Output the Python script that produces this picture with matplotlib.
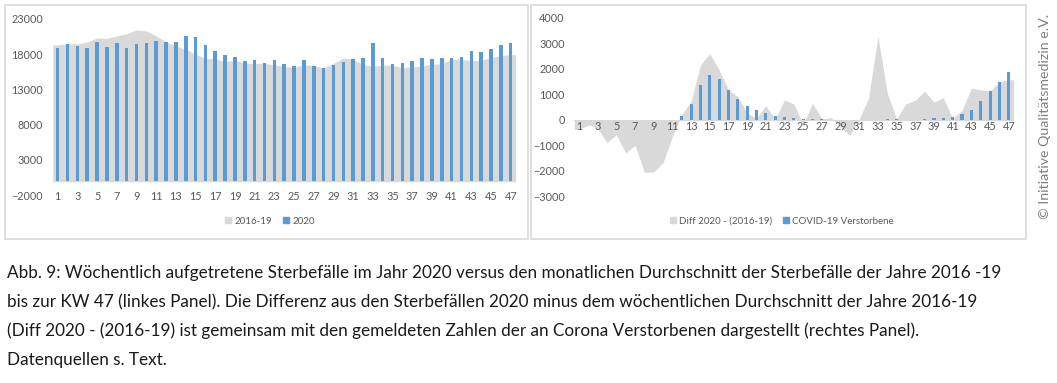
import matplotlib
matplotlib.use('Agg')
import matplotlib.pyplot as plt
from matplotlib.patches import Patch, Rectangle

# Kalenderwochen 1-47
weeks = list(range(1, 48))

# Sterbefaelle 2020 (Balken, linkes Panel)
deaths_2020 = [18850, 19450, 19170, 18890, 19780, 19030, 19590, 18890, 19450, 19590,
               19875, 19690, 19690, 20625, 20440, 19270, 18470, 17900, 17625, 16970,
               17160, 16730, 17200, 16550, 16360, 17200, 16360, 16080, 16450, 16920,
               17340, 17480, 19590, 17480, 16640, 16730, 17060, 17480, 17300, 17480,
               17390, 17580, 18420, 18330, 18750, 19360, 19590]

# Durchschnitt 2016-19 (Flaeche, linkes Panel)
avg_2016_19 = [19300, 19500, 19450, 19750, 20300, 20250, 20600, 20900, 21450, 21300,
               20600, 19750, 19150, 18700, 18000, 17400, 17350, 16950, 17100, 16750,
               16650, 16700, 16500, 16250, 16150, 16500, 16400, 16050, 16700, 17450,
               17300, 16500, 16300, 16450, 16450, 16050, 16250, 16300, 16600, 16650,
               17300, 17250, 17100, 17100, 17550, 17800, 17950]

# Diff 2020 - (2016-19) (Flaeche, rechtes Panel)
diff_2020 = [-380, -200, -330, -900, -590, -1300, -1000, -2050, -2050, -1680,
             -650, 200, 720, 2150, 2590, 1960, 1175, 910, 260, 65,
             550, 30, 780, 620, -180, 650, 40, 80, -290, -610,
             30, 860, 3280, 1040, 40, 630, 760, 1120, 690, 860,
             40, 370, 1240, 1175, 1120, 1500, 1570]

# COVID-19 Verstorbene (Balken, rechtes Panel)
covid_deaths = [0, 0, 0, 0, 0, 0, 0, 0, 0, 0,
                0, 160, 610, 1370, 1750, 1590, 1170, 800, 520, 370,
                270, 160, 100, 55, 25, 25, 25, 0, 0, 0,
                0, 0, 0, 25, 25, 0, 0, 20, 50, 50,
                90, 210, 370, 720, 1120, 1475, 1870]

left_yticks = [-2000, 3000, 8000, 13000, 18000, 23000]
right_yticks = [-3000, -2000, -1000, 0, 1000, 2000, 3000, 4000]

caption_lines = [
    'Abb. 9: Wöchentlich aufgetretene Sterbefälle im Jahr 2020 versus den monatlichen Durchschnitt der Sterbefälle der Jahre 2016 -19',
    'bis zur KW 47 (linkes Panel). Die Differenz aus den Sterbefällen 2020 minus dem wöchentlichen Durchschnitt der Jahre 2016-19',
    '(Diff 2020 - (2016-19) ist gemeinsam mit den gemeldeten Zahlen der an Corona Verstorbenen dargestellt (rechtes Panel).',
    'Datenquellen s. Text.',
]

BLUE = '#5B9BD5'
GREY = '#D9D9D9'
TICK = '#595959'
W, H = 1057, 383

plt.rcParams['font.family'] = ['Lato', 'DejaVu Sans']

fig = plt.figure(figsize=(W / 100, H / 100), dpi=100)


def fig_box(x0, y0, x1, y1):
    # pixel box (top-left origin) -> figure fraction rect
    return [x0 / W, 1 - y1 / H, (x1 - x0) / W, (y1 - y0) / H]


def edge(values):
    # flat extension to the category edges, like Excel
    return [values[0]] + list(values) + [values[-1]]


xs = [0.5] + weeks + [47.5]

# panel frames
for x0, x1 in [(5, 528), (531, 1026)]:
    fig.patches.append(Rectangle((x0 / W, 1 - 239 / H), (x1 - x0) / W, 234 / H,
                                 transform=fig.transFigure, fill=False,
                                 edgecolor=GREY, lw=1.2))

# linkes Panel
ax1 = fig.add_axes(fig_box(52.8, 19, 515.6, 195))
ax1.fill_between(xs, 0, edge(avg_2016_19), color=GREY, lw=0)
ax1.bar(weeks, deaths_2020, width=0.36, color=BLUE, zorder=3)
ax1.axhline(0, color=GREY, lw=1, zorder=2)
ax1.set_xlim(0.5, 47.5)
ax1.set_ylim(-2000, 23000)
ax1.set_yticks(left_yticks)
ax1.set_xticks(weeks[::2])

# rechtes Panel
ax2 = fig.add_axes(fig_box(574.3, 17.7, 1013.4, 196.3))
ax2.fill_between(xs, 0, edge(diff_2020), color=GREY, lw=0)
ax2.bar(weeks, covid_deaths, width=0.33, color=BLUE, zorder=3)
ax2.set_xlim(0.5, 47.5)
ax2.set_ylim(-3000, 4000)
ax2.set_yticks(right_yticks)
ax2.set_xticks(weeks[::2])
ax2.spines['bottom'].set_position(('data', 0))

for ax in (ax1, ax2):
    for s in ['top', 'right', 'left']:
        ax.spines[s].set_visible(False)
    ax.tick_params(length=0, labelsize=7.8, labelcolor=TICK, pad=7)
    ax.set_facecolor('none')
ax1.tick_params(axis='x', pad=-3)
ax2.tick_params(axis='x', pad=1)
ax1.spines['bottom'].set_visible(False)
ax2.spines['bottom'].set_color(GREY)
ax2.spines['bottom'].set_zorder(2)

# Legenden
leg_kw = dict(loc='center', ncol=2, frameon=False, fontsize=7.0, handlelength=0.6,
              handleheight=0.6, handletextpad=0.35, columnspacing=1.1, labelcolor=TICK)
fig.legend(handles=[Patch(color=GREY, label='2016-19'), Patch(color=BLUE, label='2020')],
           bbox_to_anchor=(270 / W, 1 - 221 / H), **leg_kw)
fig.legend(handles=[Patch(color=GREY, label='Diff 2020 - (2016-19)'),
                    Patch(color=BLUE, label='COVID-19 Verstorbene')],
           bbox_to_anchor=(782 / W, 1 - 221 / H), **leg_kw)

# Copyright
fig.text(1045 / W, 1 - 116 / H, '© Initiative Qualitätsmedizin e.V.', rotation=90,
         ha='center', va='center', fontsize=10.2, color='#808080')

# Bildunterschrift
for i, line in enumerate(caption_lines):
    fig.text(7 / W, 1 - (278 + 29 * i) / H, line, ha='left', va='baseline',
             fontsize=12.3, color='#1a1a1a')

fig.savefig('out.png', dpi=100)
